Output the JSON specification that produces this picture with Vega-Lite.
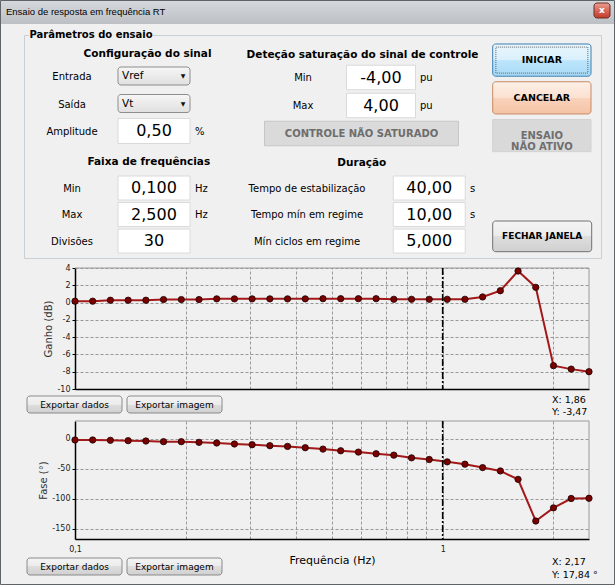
{
"$schema":"https://vega.github.io/schema/vega-lite/v6.json",
"width":615,"height":585,"autosize":{"type":"none"},"padding":0,"background":"#f0f0f0",
"config":{"view":{"stroke":null},"text":{"font":"DejaVu Sans"},"axis":{"labelFont":"DejaVu Sans","titleFont":"DejaVu Sans"}},
"datasets":{
"janela":[{"titulo":"Ensaio de resposta em frequência RT","fechar":"x"}],
"grupo":[{"grupo":"Parâmetros do ensaio"}],
"formulario":[
{"secao":"config","tipo":"cabecalho","linha":"1","rotulo":"Configuração do sinal"},
{"secao":"config","tipo":"lista","linha":"1","rotulo":"Entrada","valor":"Vref"},
{"secao":"config","tipo":"lista","linha":"2","rotulo":"Saída","valor":"Vt"},
{"secao":"config","tipo":"caixa","linha":"3","rotulo":"Amplitude","valor":"0,50","unidade":"%"},
{"secao":"faixa","tipo":"cabecalho","linha":"1","rotulo":"Faixa de frequências"},
{"secao":"faixa","tipo":"caixa","linha":"1","rotulo":"Min","valor":"0,100","unidade":"Hz"},
{"secao":"faixa","tipo":"caixa","linha":"2","rotulo":"Max","valor":"2,500","unidade":"Hz"},
{"secao":"faixa","tipo":"caixa","linha":"3","rotulo":"Divisões","valor":"30"},
{"secao":"saturacao","tipo":"cabecalho","linha":"1","rotulo":"Deteção saturação do sinal de controle"},
{"secao":"saturacao","tipo":"caixa","linha":"1","rotulo":"Min","valor":"-4,00","unidade":"pu"},
{"secao":"saturacao","tipo":"caixa","linha":"2","rotulo":"Max","valor":"4,00","unidade":"pu"},
{"secao":"saturacao","tipo":"indicador","linha":"3","valor":"CONTROLE NÃO SATURADO"},
{"secao":"duracao","tipo":"cabecalho","linha":"1","rotulo":"Duração"},
{"secao":"duracao","tipo":"caixa","linha":"1","rotulo":"Tempo de estabilização","valor":"40,00","unidade":"s"},
{"secao":"duracao","tipo":"caixa","linha":"2","rotulo":"Tempo mín em regime","valor":"10,00","unidade":"s"},
{"secao":"duracao","tipo":"caixa","linha":"3","rotulo":"Mín ciclos em regime","valor":"5,000"}
],
"acoes":[
{"acao":"INICIAR","rotulo":"INICIAR","estado":"ativo"},
{"acao":"CANCELAR","rotulo":"CANCELAR","estado":"cancelar"},
{"acao":"ENSAIO","rotulo":"ENSAIO\nNÃO ATIVO","estado":"inativo"},
{"acao":"FECHAR","rotulo":"FECHAR JANELA","estado":"normal"}
],
"barras":[
{"grafico":"ganho","tipo":"botao","texto":"Exportar dados"},
{"grafico":"ganho","tipo":"botao","texto":"Exportar imagem"},
{"grafico":"ganho","tipo":"leitura","eixo":"X","texto":"X: 1,86"},
{"grafico":"ganho","tipo":"leitura","eixo":"Y","texto":"Y: -3,47"},
{"grafico":"fase","tipo":"botao","texto":"Exportar dados"},
{"grafico":"fase","tipo":"botao","texto":"Exportar imagem"},
{"grafico":"fase","tipo":"leitura","eixo":"X","texto":"X: 2,17"},
{"grafico":"fase","tipo":"leitura","eixo":"Y","texto":"Y: 17,84 °"}
],
"resposta":[
{"frequencia":0.1,"ganho":0.16,"fase":-1.7},
{"frequencia":0.1117,"ganho":0.16,"fase":-1.7},
{"frequencia":0.1248,"ganho":0.27,"fase":-2.2},
{"frequencia":0.1395,"ganho":0.27,"fase":-2.8},
{"frequencia":0.1559,"ganho":0.27,"fase":-3.4},
{"frequencia":0.1741,"ganho":0.35,"fase":-4.5},
{"frequencia":0.1946,"ganho":0.35,"fase":-4.5},
{"frequencia":0.2174,"ganho":0.35,"fase":-5.6},
{"frequencia":0.2429,"ganho":0.43,"fase":-6.7},
{"frequencia":0.2714,"ganho":0.43,"fase":-8.4},
{"frequencia":0.3032,"ganho":0.43,"fase":-9.6},
{"frequencia":0.3388,"ganho":0.43,"fase":-11.2},
{"frequencia":0.3785,"ganho":0.43,"fase":-12.4},
{"frequencia":0.4229,"ganho":0.43,"fase":-14.6},
{"frequencia":0.4725,"ganho":0.45,"fase":-16.9},
{"frequencia":0.528,"ganho":0.45,"fase":-19.7},
{"frequencia":0.5899,"ganho":0.45,"fase":-21.9},
{"frequencia":0.6591,"ganho":0.45,"fase":-24.7},
{"frequencia":0.7364,"ganho":0.38,"fase":-27.0},
{"frequencia":0.8228,"ganho":0.38,"fase":-31.5},
{"frequencia":0.9193,"ganho":0.38,"fase":-34.3},
{"frequencia":1.0287,"ganho":0.38,"fase":-38.2},
{"frequencia":1.1494,"ganho":0.38,"fase":-42.1},
{"frequencia":1.2842,"ganho":0.65,"fase":-47.8},
{"frequencia":1.4349,"ganho":1.37,"fase":-53.4},
{"frequencia":1.6032,"ganho":3.65,"fase":-67.4},
{"frequencia":1.7913,"ganho":1.76,"fase":-137.0},
{"frequencia":2.0014,"ganho":-7.3,"fase":-115.0},
{"frequencia":2.2362,"ganho":-7.7,"fase":-99.4},
{"frequencia":2.5,"ganho":-8.0,"fase":-99.0}
]
},
"resolve":{"scale":{"x":"independent","y":"independent"},"axis":{"x":"independent","y":"independent"}},
"layer":[
{"data":{"name":"janela"},
 "mark":{"type":"rect","strokeWidth":0,"fill":{"gradient":"linear","x1":0,"y1":0,"x2":0,"y2":1,"stops":[{"offset":0,"color":"#d6d9dd"},{"offset":1,"color":"#bcc0c5"}]}},
 "encoding":{"x":{"datum":"barra","type":"nominal","scale":{"type":"band","domain":["barra"],"range":[0,615],"padding":0},"axis":null},
  "y":{"datum":"barra","type":"nominal","scale":{"type":"band","domain":["barra"],"range":[0,24],"padding":0},"axis":null}}},
{"data":{"name":"janela"},
 "mark":{"type":"text","align":"left","font":"Liberation Sans","fontSize":9.5,"color":"#000"},
 "encoding":{"x":{"datum":"titulo","type":"nominal","scale":{"type":"band","domain":["titulo"],"range":[0,12],"padding":0},"axis":null},
  "y":{"datum":"titulo","type":"nominal","scale":{"type":"band","domain":["titulo"],"range":[0,24],"padding":0},"axis":null},
  "text":{"field":"titulo"}}},
{"data":{"name":"janela"},
 "encoding":{"x":{"datum":"fechar","type":"nominal","scale":{"type":"band","domain":["fechar"],"range":[594,610],"padding":0},"axis":null},
  "y":{"datum":"fechar","type":"nominal","scale":{"type":"band","domain":["fechar"],"range":[3,18],"padding":0},"axis":null}},
 "layer":[
  {"mark":{"type":"rect","cornerRadius":3,"stroke":"#6f2a24","strokeWidth":1,"fill":{"gradient":"linear","x1":0,"y1":0,"x2":0,"y2":1,"stops":[{"offset":0,"color":"#e8a093"},{"offset":0.5,"color":"#d7685a"},{"offset":1,"color":"#c13a2c"}]}}},
  {"mark":{"type":"text","fontSize":9,"fontWeight":"bold","color":"#ffffff","dy":-1},"encoding":{"text":{"field":"fechar"}}}
 ]},
{"data":{"name":"janela"},
 "mark":{"type":"rect","fill":"transparent","stroke":"#5f6469","strokeWidth":1},
 "encoding":{"x":{"datum":"moldura","type":"nominal","scale":{"type":"band","domain":["moldura"],"range":[0.5,614.5],"padding":0},"axis":null},
  "y":{"datum":"moldura","type":"nominal","scale":{"type":"band","domain":["moldura"],"range":[0.5,584.5],"padding":0},"axis":null}}},
{"data":{"name":"grupo"},
 "mark":{"type":"rect","fill":"transparent","stroke":"#c8cfd5","strokeWidth":1},
 "encoding":{"x":{"datum":"grupo","type":"nominal","scale":{"type":"band","domain":["grupo"],"range":[24.5,601.5],"padding":0},"axis":null},
  "y":{"datum":"grupo","type":"nominal","scale":{"type":"band","domain":["grupo"],"range":[35.5,258.5],"padding":0},"axis":null}}},
{"data":{"name":"grupo"},
 "encoding":{"x":{"datum":"titulo","type":"nominal","scale":{"type":"band","domain":["titulo"],"range":[29,153],"padding":0},"axis":null},
  "y":{"datum":"titulo","type":"nominal","scale":{"type":"band","domain":["titulo"],"range":[29,40],"padding":0},"axis":null}},
 "layer":[
  {"mark":{"type":"rect","fill":"#f0f0f0","strokeWidth":0}},
  {"mark":{"type":"text","fontSize":10,"fontWeight":"bold","color":"#000"},"encoding":{"text":{"field":"grupo"}}}
 ]},
{"data":{"name":"formulario"},"transform":[{"filter":"datum.secao == 'config'"}],
 "encoding":{"y":{"field":"linha","type":"nominal","scale":{"type":"band","domain":["1","2","3"],"range":[62.25,144.75],"padding":0},"axis":null}},
 "layer":[
  {"transform":[{"filter":"datum.tipo == 'cabecalho'"}],"mark":{"type":"text","fontSize":10.5,"fontWeight":"bold","color":"#000","dx":-6.5,"dy":-21.7},
   "encoding":{"x":{"datum":"campo","type":"nominal","scale":{"type":"band","domain":["rótulo","vazio","campo","unidade"],"range":[51.5,215.5],"padding":0},"axis":null},"text":{"field":"rotulo"}}},
  {"transform":[{"filter":"datum.tipo == 'caixa' || datum.tipo == 'lista'"}],"mark":{"type":"text","fontSize":10,"color":"#000","dy":1},
   "encoding":{"x":{"datum":"rótulo","type":"nominal","scale":{"type":"band","domain":["rótulo","vazio","campo","unidade"],"range":[51.5,215.5],"padding":0},"axis":null},"text":{"field":"rotulo"}}},
  {"transform":[{"filter":"datum.tipo == 'lista'"}],"mark":{"type":"rect","width":72,"height":18,"cornerRadius":3,"stroke":"#8d8d8d","strokeWidth":1,"fill":{"gradient":"linear","x1":0,"y1":0,"x2":0,"y2":1,"stops":[{"offset":0,"color":"#f6f6f6"},{"offset":1,"color":"#e0e0e0"}]}},
   "encoding":{"x":{"datum":"campo","type":"nominal","scale":{"type":"band","domain":["rótulo","vazio","campo","unidade"],"range":[51.5,215.5],"padding":0},"axis":null}}},
  {"transform":[{"filter":"datum.tipo == 'lista'"}],"mark":{"type":"text","align":"left","dx":-32,"fontSize":10.5,"color":"#000"},
   "encoding":{"x":{"datum":"campo","type":"nominal","scale":{"type":"band","domain":["rótulo","vazio","campo","unidade"],"range":[51.5,215.5],"padding":0},"axis":null},"text":{"field":"valor"}}},
  {"transform":[{"filter":"datum.tipo == 'lista'"}],"mark":{"type":"text","dx":29,"fontSize":6,"color":"#111"},
   "encoding":{"x":{"datum":"campo","type":"nominal","scale":{"type":"band","domain":["rótulo","vazio","campo","unidade"],"range":[51.5,215.5],"padding":0},"axis":null},"text":{"value":"▼"}}},
  {"transform":[{"filter":"datum.tipo == 'caixa'"}],"mark":{"type":"rect","width":72,"height":25,"fill":"#ffffff","stroke":"#dadada","strokeWidth":1},
   "encoding":{"x":{"datum":"campo","type":"nominal","scale":{"type":"band","domain":["rótulo","vazio","campo","unidade"],"range":[51.5,215.5],"padding":0},"axis":null}}},
  {"transform":[{"filter":"datum.tipo == 'caixa'"}],"mark":{"type":"text","fontSize":16,"color":"#000"},
   "encoding":{"x":{"datum":"campo","type":"nominal","scale":{"type":"band","domain":["rótulo","vazio","campo","unidade"],"range":[51.5,215.5],"padding":0},"axis":null},"text":{"field":"valor"}}},
  {"transform":[{"filter":"datum.unidade"}],"mark":{"type":"text","align":"left","fontSize":10,"color":"#000","dy":1},
   "encoding":{"x":{"datum":"unidade","type":"nominal","scale":{"type":"band","domain":["rótulo","vazio","campo","unidade"],"range":[51.5,215.5],"padding":0},"axis":null},"text":{"field":"unidade"}}}
 ]},
{"data":{"name":"formulario"},"transform":[{"filter":"datum.secao == 'faixa'"}],
 "encoding":{"y":{"field":"linha","type":"nominal","scale":{"type":"band","domain":["1","2","3"],"range":[174.75,254.25],"padding":0},"axis":null}},
 "layer":[
  {"transform":[{"filter":"datum.tipo == 'cabecalho'"}],"mark":{"type":"text","fontSize":10.5,"fontWeight":"bold","color":"#000","dx":-5.2,"dy":-25.7},
   "encoding":{"x":{"datum":"campo","type":"nominal","scale":{"type":"band","domain":["rótulo","vazio","campo","unidade"],"range":[51.5,215.5],"padding":0},"axis":null},"text":{"field":"rotulo"}}},
  {"transform":[{"filter":"datum.tipo == 'caixa'"}],"mark":{"type":"text","fontSize":10,"color":"#000","dy":0.5},
   "encoding":{"x":{"datum":"rótulo","type":"nominal","scale":{"type":"band","domain":["rótulo","vazio","campo","unidade"],"range":[51.5,215.5],"padding":0},"axis":null},"text":{"field":"rotulo"}}},
  {"transform":[{"filter":"datum.tipo == 'caixa'"}],"mark":{"type":"rect","width":72,"height":24,"fill":"#ffffff","stroke":"#dadada","strokeWidth":1},
   "encoding":{"x":{"datum":"campo","type":"nominal","scale":{"type":"band","domain":["rótulo","vazio","campo","unidade"],"range":[51.5,215.5],"padding":0},"axis":null}}},
  {"transform":[{"filter":"datum.tipo == 'caixa'"}],"mark":{"type":"text","fontSize":16,"color":"#000"},
   "encoding":{"x":{"datum":"campo","type":"nominal","scale":{"type":"band","domain":["rótulo","vazio","campo","unidade"],"range":[51.5,215.5],"padding":0},"axis":null},"text":{"field":"valor"}}},
  {"transform":[{"filter":"datum.unidade"}],"mark":{"type":"text","align":"left","fontSize":10,"color":"#000","dy":0.5},
   "encoding":{"x":{"datum":"unidade","type":"nominal","scale":{"type":"band","domain":["rótulo","vazio","campo","unidade"],"range":[51.5,215.5],"padding":0},"axis":null},"text":{"field":"unidade"}}}
 ]},
{"data":{"name":"formulario"},"transform":[{"filter":"datum.secao == 'saturacao'"}],
 "encoding":{"y":{"field":"linha","type":"nominal","scale":{"type":"band","domain":["1","2","3"],"range":[63.5,147.5],"padding":0},"axis":null}},
 "layer":[
  {"transform":[{"filter":"datum.tipo == 'cabecalho'"}],"mark":{"type":"text","fontSize":10.5,"fontWeight":"bold","color":"#000","dx":1,"dy":-22.5},
   "encoding":{"x":{"datum":"centro","type":"nominal","scale":{"type":"band","domain":["rótulo","a","b","centro","campo","c","unidade"],"range":[293.25,429.75],"padding":0},"axis":null},"text":{"field":"rotulo"}}},
  {"transform":[{"filter":"datum.tipo == 'caixa'"}],"mark":{"type":"text","fontSize":10,"color":"#000"},
   "encoding":{"x":{"datum":"rótulo","type":"nominal","scale":{"type":"band","domain":["rótulo","a","b","centro","campo","c","unidade"],"range":[293.25,429.75],"padding":0},"axis":null},"text":{"field":"rotulo"}}},
  {"transform":[{"filter":"datum.tipo == 'caixa'"}],"mark":{"type":"rect","width":69,"height":24.5,"fill":"#ffffff","stroke":"#dadada","strokeWidth":1},
   "encoding":{"x":{"datum":"campo","type":"nominal","scale":{"type":"band","domain":["rótulo","a","b","centro","campo","c","unidade"],"range":[293.25,429.75],"padding":0},"axis":null}}},
  {"transform":[{"filter":"datum.tipo == 'caixa'"}],"mark":{"type":"text","fontSize":16,"color":"#000"},
   "encoding":{"x":{"datum":"campo","type":"nominal","scale":{"type":"band","domain":["rótulo","a","b","centro","campo","c","unidade"],"range":[293.25,429.75],"padding":0},"axis":null},"text":{"field":"valor"}}},
  {"transform":[{"filter":"datum.unidade"}],"mark":{"type":"text","align":"left","fontSize":10,"color":"#000"},
   "encoding":{"x":{"datum":"unidade","type":"nominal","scale":{"type":"band","domain":["rótulo","a","b","centro","campo","c","unidade"],"range":[293.25,429.75],"padding":0},"axis":null},"text":{"field":"unidade"}}},
  {"transform":[{"filter":"datum.tipo == 'indicador'"}],"mark":{"type":"rect","width":194,"height":24.5,"fill":"#dadada","stroke":"#c6c6c6","strokeWidth":1},
   "encoding":{"x":{"datum":"centro","type":"nominal","scale":{"type":"band","domain":["rótulo","a","b","centro","campo","c","unidade"],"range":[293.25,429.75],"padding":0},"axis":null}}},
  {"transform":[{"filter":"datum.tipo == 'indicador'"}],"mark":{"type":"text","fontSize":10,"fontWeight":"bold","color":"#6d6d6d"},
   "encoding":{"x":{"datum":"centro","type":"nominal","scale":{"type":"band","domain":["rótulo","a","b","centro","campo","c","unidade"],"range":[293.25,429.75],"padding":0},"axis":null},"text":{"field":"valor"}}}
 ]},
{"data":{"name":"formulario"},"transform":[{"filter":"datum.secao == 'duracao'"}],
 "encoding":{"y":{"field":"linha","type":"nominal","scale":{"type":"band","domain":["1","2","3"],"range":[174.75,254.25],"padding":0},"axis":null}},
 "layer":[
  {"transform":[{"filter":"datum.tipo == 'cabecalho'"}],"mark":{"type":"text","fontSize":10.5,"fontWeight":"bold","color":"#000","dx":14,"dy":-24.7},
   "encoding":{"x":{"datum":"a","type":"nominal","scale":{"type":"band","domain":["rótulo","a","b","campo","unidade"],"range":[286.67,490.33],"padding":0},"axis":null},"text":{"field":"rotulo"}}},
  {"transform":[{"filter":"datum.tipo == 'caixa'"}],"mark":{"type":"text","fontSize":10,"color":"#000","dy":0.5},
   "encoding":{"x":{"datum":"rótulo","type":"nominal","scale":{"type":"band","domain":["rótulo","a","b","campo","unidade"],"range":[286.67,490.33],"padding":0},"axis":null},"text":{"field":"rotulo"}}},
  {"transform":[{"filter":"datum.tipo == 'caixa'"}],"mark":{"type":"rect","width":72,"height":24,"fill":"#ffffff","stroke":"#dadada","strokeWidth":1},
   "encoding":{"x":{"datum":"campo","type":"nominal","scale":{"type":"band","domain":["rótulo","a","b","campo","unidade"],"range":[286.67,490.33],"padding":0},"axis":null}}},
  {"transform":[{"filter":"datum.tipo == 'caixa'"}],"mark":{"type":"text","fontSize":16,"color":"#000"},
   "encoding":{"x":{"datum":"campo","type":"nominal","scale":{"type":"band","domain":["rótulo","a","b","campo","unidade"],"range":[286.67,490.33],"padding":0},"axis":null},"text":{"field":"valor"}}},
  {"transform":[{"filter":"datum.unidade"}],"mark":{"type":"text","align":"left","fontSize":10,"color":"#000","dy":0.5},
   "encoding":{"x":{"datum":"unidade","type":"nominal","scale":{"type":"band","domain":["rótulo","a","b","campo","unidade"],"range":[286.67,490.33],"padding":0},"axis":null},"text":{"field":"unidade"}}}
 ]},
{"data":{"name":"acoes"},"transform":[{"filter":"datum.acao != 'FECHAR'"}],
 "encoding":{"x":{"datum":"botão","type":"nominal","scale":{"type":"band","domain":["botão"],"range":[492.7,591],"padding":0},"axis":null},
  "y":{"field":"acao","type":"nominal","scale":{"type":"band","domain":["INICIAR","CANCELAR","ENSAIO"],"range":[44,151.7],"paddingInner":0.147,"paddingOuter":0},"axis":null}},
 "layer":[
  {"transform":[{"filter":"datum.acao == 'INICIAR'"}],"mark":{"type":"rect","cornerRadius":3,"stroke":"#3c7fb1","strokeWidth":1,"fill":{"gradient":"linear","x1":0,"y1":0,"x2":0,"y2":1,"stops":[{"offset":0,"color":"#eaf6fd"},{"offset":0.5,"color":"#d9f0fc"},{"offset":0.5,"color":"#bee6fd"},{"offset":1,"color":"#a7d9f5"}]}}},
  {"transform":[{"filter":"datum.acao == 'INICIAR'"}],"mark":{"type":"rect","width":92,"height":26,"fill":"transparent","stroke":"#404040","strokeWidth":0.8,"strokeDash":[1,1]}},
  {"transform":[{"filter":"datum.acao == 'CANCELAR'"}],"mark":{"type":"rect","cornerRadius":3,"stroke":"#c78a64","strokeWidth":1,"fill":{"gradient":"linear","x1":0,"y1":0,"x2":0,"y2":1,"stops":[{"offset":0,"color":"#fdefe6"},{"offset":0.5,"color":"#fbe1d1"},{"offset":0.5,"color":"#f9d3bc"},{"offset":1,"color":"#f5c3a5"}]}}},
  {"transform":[{"filter":"datum.acao == 'ENSAIO'"}],"mark":{"type":"rect","fill":"#d9d9d9","stroke":"#d2d2d2","strokeWidth":1}},
  {"transform":[{"filter":"datum.estado != 'inativo'"}],"mark":{"type":"text","fontSize":9.5,"fontWeight":"bold","color":"#000"},"encoding":{"text":{"field":"rotulo"}}},
  {"transform":[{"filter":"datum.estado == 'inativo'"}],"mark":{"type":"text","fontSize":10,"fontWeight":"bold","color":"#6e6e6e","lineBreak":"\n","lineHeight":11},"encoding":{"text":{"field":"rotulo"}}}
 ]},
{"data":{"name":"acoes"},"transform":[{"filter":"datum.acao == 'FECHAR'"}],
 "encoding":{"x":{"datum":"botão","type":"nominal","scale":{"type":"band","domain":["botão"],"range":[492.7,591.7],"padding":0},"axis":null},
  "y":{"field":"acao","type":"nominal","scale":{"type":"band","domain":["FECHAR"],"range":[221,251.7],"padding":0},"axis":null}},
 "layer":[
  {"mark":{"type":"rect","cornerRadius":3,"stroke":"#707070","strokeWidth":1,"fill":{"gradient":"linear","x1":0,"y1":0,"x2":0,"y2":1,"stops":[{"offset":0,"color":"#f4f4f4"},{"offset":0.5,"color":"#ebebeb"},{"offset":0.5,"color":"#dedede"},{"offset":1,"color":"#d0d0d0"}]}}},
  {"mark":{"type":"text","fontSize":9,"fontWeight":"bold","color":"#000"},"encoding":{"text":{"field":"rotulo"}}}
 ]},
{"data":{"name":"resposta"},"mark":{"type":"line","color":"#a31818","strokeWidth":2},
 "encoding":{"x":{"field":"frequencia","type":"quantitative","scale":{"type":"log","domain":[0.1,2.5],"range":[75,589],"nice":false},
   "axis":{"orient":"top","offset":-389,"values":[0.1,0.2,0.3,0.4,0.5,0.6,0.7,0.8,0.9,1,2],"labels":false,"ticks":false,"tickSize":0,"domainColor":"#000","domainWidth":1.5,"grid":true,"gridColor":"#999999","gridDash":[3,2],"gridWidth":1,"title":null}},
  "y":{"field":"ganho","type":"quantitative","scale":{"domain":[-10,4],"range":[389,268],"nice":false,"zero":false},
   "axis":{"orient":"left","offset":-75,"values":[-10,-8,-6,-4,-2,0,2,4],"labelExpr":"'' + datum.value","labelFontSize":8,"labelColor":"#1a1a1a","labelPadding":2,"tickSize":3,"tickColor":"#000","domainColor":"#000","domainWidth":1.5,"grid":true,"gridColor":"#999999","gridDash":[3,2],"gridWidth":1,"title":"Ganho (dB)","titleFontSize":10,"titleFontWeight":"normal","titleColor":"#333","titlePadding":3}}}},
{"data":{"values":[{"borda":"superior"}]},"mark":{"type":"rule","color":"#9a9a9a","strokeWidth":1},
 "encoding":{"x":{"datum":0.1,"type":"quantitative","scale":{"type":"log","domain":[0.1,2.5],"range":[75,589],"nice":false},"axis":null},"x2":{"datum":2.5},
  "y":{"datum":4,"type":"quantitative","scale":{"domain":[-10,4],"range":[389,268],"nice":false,"zero":false},"axis":null}}},
{"data":{"values":[{"borda":"direita"}]},"mark":{"type":"rule","color":"#9a9a9a","strokeWidth":1},
 "encoding":{"x":{"datum":2.5,"type":"quantitative","scale":{"type":"log","domain":[0.1,2.5],"range":[75,589],"nice":false},"axis":null},
  "y":{"datum":4,"type":"quantitative","scale":{"domain":[-10,4],"range":[389,268],"nice":false,"zero":false},"axis":null},"y2":{"datum":-10}}},
{"data":{"values":[{"frequencia":1}]},"mark":{"type":"rule","color":"#000","strokeWidth":1.6,"strokeDash":[7,2,2,2]},
 "encoding":{"x":{"field":"frequencia","type":"quantitative","scale":{"type":"log","domain":[0.1,2.5],"range":[75,589],"nice":false},"axis":null},
  "y":{"datum":4,"type":"quantitative","scale":{"domain":[-10,4],"range":[389,268],"nice":false,"zero":false},"axis":null},"y2":{"datum":-10}}},
{"data":{"name":"resposta"},"mark":{"type":"point","filled":true,"size":40,"fill":"#7a0000","stroke":"#1a0000","strokeWidth":0.8,"opacity":1},
 "encoding":{"x":{"field":"frequencia","type":"quantitative","scale":{"type":"log","domain":[0.1,2.5],"range":[75,589],"nice":false},"axis":null},
  "y":{"field":"ganho","type":"quantitative","scale":{"domain":[-10,4],"range":[389,268],"nice":false,"zero":false},"axis":null}}},
{"data":{"name":"barras"},"transform":[{"filter":"datum.grafico == 'ganho' && datum.tipo == 'botao'"}],
 "encoding":{"x":{"field":"texto","type":"nominal","scale":{"type":"band","domain":["Exportar dados","Exportar imagem"],"range":[27,222],"paddingInner":0.05,"paddingOuter":0},"axis":null},
  "y":{"datum":"botões","type":"nominal","scale":{"type":"band","domain":["botões"],"range":[396,413],"padding":0},"axis":null}},
 "layer":[
  {"mark":{"type":"rect","cornerRadius":3,"stroke":"#8a8a8a","strokeWidth":1,"fill":{"gradient":"linear","x1":0,"y1":0,"x2":0,"y2":1,"stops":[{"offset":0,"color":"#f4f4f4"},{"offset":0.5,"color":"#ebebeb"},{"offset":0.5,"color":"#dedede"},{"offset":1,"color":"#d0d0d0"}]}}},
  {"mark":{"type":"text","fontSize":9,"color":"#000"},"encoding":{"text":{"field":"texto"}}}
 ]},
{"data":{"name":"barras"},"transform":[{"filter":"datum.grafico == 'ganho' && datum.tipo == 'leitura'"}],
 "mark":{"type":"text","align":"left","fontSize":9.5,"color":"#000"},
 "encoding":{"x":{"datum":"leitura","type":"nominal","scale":{"type":"band","domain":["leitura"],"range":[492,612],"padding":0},"axis":null},
  "y":{"field":"eixo","type":"nominal","scale":{"type":"band","domain":["X","Y"],"range":[394,418],"padding":0},"axis":null},
  "text":{"field":"texto"}}},
{"data":{"name":"resposta"},"mark":{"type":"line","color":"#a31818","strokeWidth":2},
 "encoding":{"x":{"field":"frequencia","type":"quantitative","scale":{"type":"log","domain":[0.1,2.5],"range":[75,589],"nice":false},
   "axis":{"orient":"top","offset":-539,"values":[0.1,0.2,0.3,0.4,0.5,0.6,0.7,0.8,0.9,1,2],"labelExpr":"datum.value == 0.1 ? '0,1' : (datum.value == 1 ? '1' : '')","labelFontSize":8,"labelColor":"#1a1a1a","labelPadding":-10,"labelBaseline":"middle","labelFlush":false,"labelOverlap":false,"labelBound":false,"ticks":false,"tickSize":0,"domainColor":"#000","domainWidth":1.5,"grid":true,"gridColor":"#999999","gridDash":[3,2],"gridWidth":1,"title":"Frequência (Hz)","titleFontSize":11,"titleFontWeight":"normal","titleColor":"#000","titleY":21,"titleBaseline":"middle"}},
  "y":{"field":"fase","type":"quantitative","scale":{"domain":[-167,30],"range":[539,421],"nice":false,"zero":false},
   "axis":{"orient":"left","offset":-75,"values":[-150,-100,-50,0],"labelExpr":"'' + datum.value","labelFontSize":8,"labelColor":"#1a1a1a","labelPadding":2,"tickSize":3,"tickColor":"#000","domainColor":"#000","domainWidth":1.5,"grid":true,"gridColor":"#999999","gridDash":[3,2],"gridWidth":1,"title":"Fase (°)","titleFontSize":10,"titleFontWeight":"normal","titleColor":"#333","titlePadding":3}}}},
{"data":{"values":[{"borda":"superior"}]},"mark":{"type":"rule","color":"#9a9a9a","strokeWidth":1},
 "encoding":{"x":{"datum":0.1,"type":"quantitative","scale":{"type":"log","domain":[0.1,2.5],"range":[75,589],"nice":false},"axis":null},"x2":{"datum":2.5},
  "y":{"datum":30,"type":"quantitative","scale":{"domain":[-167,30],"range":[539,421],"nice":false,"zero":false},"axis":null}}},
{"data":{"values":[{"borda":"direita"}]},"mark":{"type":"rule","color":"#9a9a9a","strokeWidth":1},
 "encoding":{"x":{"datum":2.5,"type":"quantitative","scale":{"type":"log","domain":[0.1,2.5],"range":[75,589],"nice":false},"axis":null},
  "y":{"datum":30,"type":"quantitative","scale":{"domain":[-167,30],"range":[539,421],"nice":false,"zero":false},"axis":null},"y2":{"datum":-167}}},
{"data":{"values":[{"frequencia":1}]},"mark":{"type":"rule","color":"#000","strokeWidth":1.6,"strokeDash":[7,2,2,2]},
 "encoding":{"x":{"field":"frequencia","type":"quantitative","scale":{"type":"log","domain":[0.1,2.5],"range":[75,589],"nice":false},"axis":null},
  "y":{"datum":30,"type":"quantitative","scale":{"domain":[-167,30],"range":[539,421],"nice":false,"zero":false},"axis":null},"y2":{"datum":-167}}},
{"data":{"name":"resposta"},"mark":{"type":"point","filled":true,"size":40,"fill":"#7a0000","stroke":"#1a0000","strokeWidth":0.8,"opacity":1},
 "encoding":{"x":{"field":"frequencia","type":"quantitative","scale":{"type":"log","domain":[0.1,2.5],"range":[75,589],"nice":false},"axis":null},
  "y":{"field":"fase","type":"quantitative","scale":{"domain":[-167,30],"range":[539,421],"nice":false,"zero":false},"axis":null}}},
{"data":{"name":"barras"},"transform":[{"filter":"datum.grafico == 'fase' && datum.tipo == 'botao'"}],
 "encoding":{"x":{"field":"texto","type":"nominal","scale":{"type":"band","domain":["Exportar dados","Exportar imagem"],"range":[27,222],"paddingInner":0.05,"paddingOuter":0},"axis":null},
  "y":{"datum":"botões","type":"nominal","scale":{"type":"band","domain":["botões"],"range":[558,575],"padding":0},"axis":null}},
 "layer":[
  {"mark":{"type":"rect","cornerRadius":3,"stroke":"#8a8a8a","strokeWidth":1,"fill":{"gradient":"linear","x1":0,"y1":0,"x2":0,"y2":1,"stops":[{"offset":0,"color":"#f4f4f4"},{"offset":0.5,"color":"#ebebeb"},{"offset":0.5,"color":"#dedede"},{"offset":1,"color":"#d0d0d0"}]}}},
  {"mark":{"type":"text","fontSize":9,"color":"#000"},"encoding":{"text":{"field":"texto"}}}
 ]},
{"data":{"name":"barras"},"transform":[{"filter":"datum.grafico == 'fase' && datum.tipo == 'leitura'"}],
 "mark":{"type":"text","align":"left","fontSize":9.5,"color":"#000"},
 "encoding":{"x":{"datum":"leitura","type":"nominal","scale":{"type":"band","domain":["leitura"],"range":[492,612],"padding":0},"axis":null},
  "y":{"field":"eixo","type":"nominal","scale":{"type":"band","domain":["X","Y"],"range":[555.5,581.5],"padding":0},"axis":null},
  "text":{"field":"texto"}}}
]
}
